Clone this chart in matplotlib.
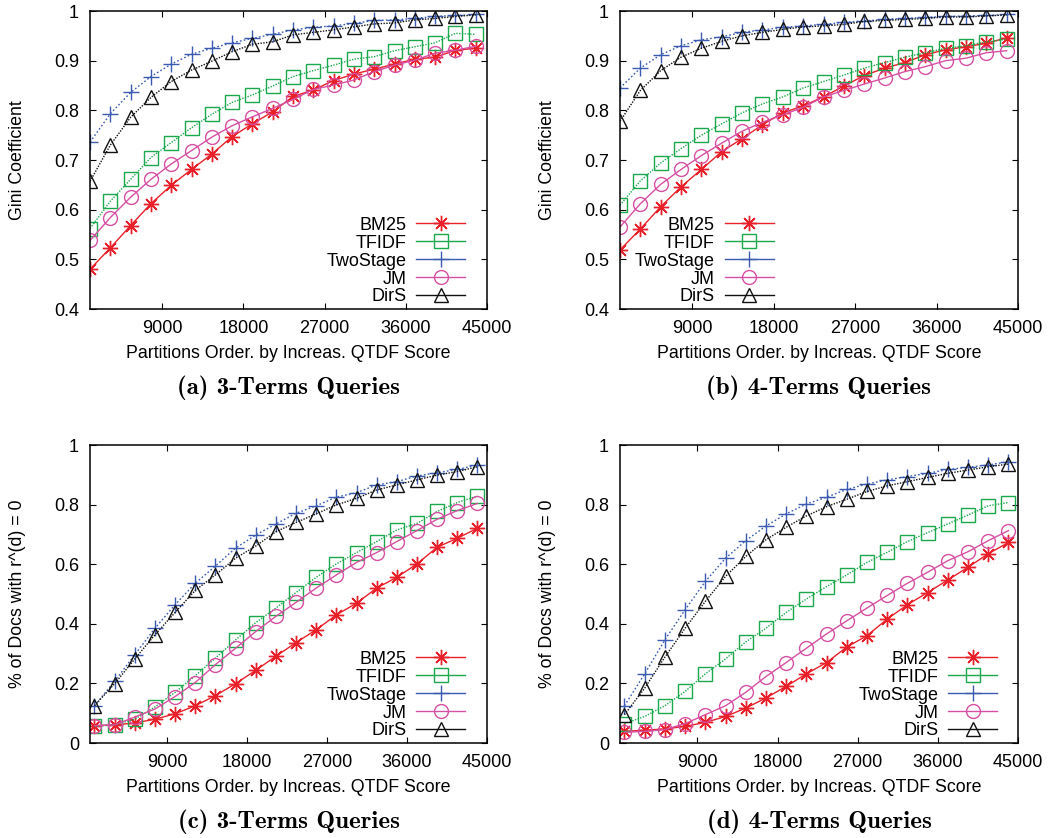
import numpy as np
import matplotlib
matplotlib.use("Agg")
import matplotlib.pyplot as plt
from matplotlib.lines import Line2D

plt.rcParams['font.family'] = ['Liberation Sans', 'DejaVu Sans']

# partition positions (20 points per curve)
x_top = [1000, 3250, 5500, 7750, 10000, 12250, 14500, 16750, 19000, 21250,
         23500, 25750, 28000, 30250, 32500, 34750, 37000, 39250, 41500, 43750]
x_bot = [800, 3070, 5340, 7610, 9880, 12150, 14420, 16690, 18960, 21230,
         23500, 25770, 28040, 30310, 32580, 34850, 37120, 39390, 41660, 43930]

methods = ["BM25", "TFIDF", "TwoStage", "JM", "DirS"]

# (a) Gini coefficient, 3-term queries
gini3_bm25 = [0.480, 0.523, 0.568, 0.612, 0.649, 0.681, 0.712, 0.747, 0.773, 0.797,
              0.828, 0.841, 0.860, 0.873, 0.883, 0.893, 0.903, 0.907, 0.921, 0.925]
gini3_tfidf = [0.562, 0.617, 0.661, 0.705, 0.735, 0.765, 0.792, 0.816, 0.831, 0.849,
               0.868, 0.880, 0.891, 0.903, 0.908, 0.920, 0.928, 0.936, 0.955, 0.953]
gini3_two = [0.736, 0.793, 0.836, 0.868, 0.893, 0.913, 0.925, 0.936, 0.945, 0.953,
             0.962, 0.967, 0.970, 0.975, 0.981, 0.982, 0.985, 0.989, 0.991, 0.993]
gini3_jm = [0.538, 0.584, 0.625, 0.661, 0.692, 0.719, 0.746, 0.769, 0.787, 0.804,
            0.822, 0.842, 0.851, 0.861, 0.878, 0.891, 0.901, 0.915, 0.921, 0.929]
gini3_dirs = [0.657, 0.730, 0.786, 0.826, 0.858, 0.881, 0.899, 0.918, 0.933, 0.938,
              0.952, 0.957, 0.962, 0.968, 0.974, 0.976, 0.982, 0.985, 0.989, 0.992]

# (b) Gini coefficient, 4-term queries
gini4_bm25 = [0.519, 0.561, 0.606, 0.646, 0.681, 0.717, 0.743, 0.771, 0.795, 0.809,
              0.827, 0.849, 0.870, 0.885, 0.896, 0.912, 0.922, 0.928, 0.935, 0.946]
gini4_tfidf = [0.609, 0.658, 0.694, 0.723, 0.750, 0.773, 0.795, 0.813, 0.827, 0.845,
               0.858, 0.871, 0.885, 0.896, 0.907, 0.916, 0.925, 0.930, 0.938, 0.943]
gini4_two = [0.845, 0.885, 0.912, 0.930, 0.942, 0.948, 0.957, 0.962, 0.967, 0.970,
             0.973, 0.977, 0.980, 0.983, 0.985, 0.987, 0.989, 0.990, 0.991, 0.993]
gini4_jm = [0.565, 0.612, 0.651, 0.681, 0.709, 0.734, 0.758, 0.776, 0.791, 0.806,
            0.827, 0.840, 0.853, 0.865, 0.878, 0.888, 0.900, 0.905, 0.916, 0.920]
gini4_dirs = [0.778, 0.840, 0.880, 0.907, 0.925, 0.939, 0.950, 0.957, 0.963, 0.968,
              0.970, 0.973, 0.979, 0.981, 0.983, 0.985, 0.988, 0.988, 0.990, 0.992]

# (c) share of docs with r^(d) = 0, 3-term queries
zero3_bm25 = [0.058, 0.061, 0.067, 0.080, 0.098, 0.125, 0.159, 0.199, 0.244, 0.291,
              0.337, 0.380, 0.430, 0.469, 0.520, 0.556, 0.601, 0.657, 0.687, 0.721]
zero3_tfidf = [0.056, 0.061, 0.080, 0.121, 0.170, 0.226, 0.285, 0.346, 0.404, 0.453,
               0.505, 0.556, 0.601, 0.639, 0.676, 0.715, 0.737, 0.777, 0.807, 0.829]
zero3_two = [0.125, 0.207, 0.296, 0.385, 0.464, 0.536, 0.594, 0.654, 0.698, 0.735,
             0.771, 0.796, 0.825, 0.840, 0.866, 0.877, 0.896, 0.907, 0.918, 0.933]
zero3_jm = [0.058, 0.061, 0.087, 0.114, 0.156, 0.203, 0.263, 0.318, 0.374, 0.425,
            0.472, 0.520, 0.564, 0.606, 0.639, 0.676, 0.713, 0.751, 0.780, 0.804]
zero3_dirs = [0.125, 0.199, 0.282, 0.363, 0.438, 0.512, 0.564, 0.620, 0.661, 0.709,
              0.740, 0.769, 0.799, 0.821, 0.849, 0.866, 0.883, 0.899, 0.911, 0.927]

# (d) share of docs with r^(d) = 0, 4-term queries
zero4_bm25 = [0.039, 0.043, 0.047, 0.056, 0.069, 0.089, 0.117, 0.151, 0.190, 0.232,
              0.270, 0.322, 0.360, 0.416, 0.464, 0.505, 0.547, 0.590, 0.635, 0.673]
zero4_tfidf = [0.065, 0.089, 0.125, 0.173, 0.232, 0.282, 0.339, 0.385, 0.438, 0.483,
               0.525, 0.564, 0.606, 0.640, 0.676, 0.706, 0.735, 0.765, 0.796, 0.807]
zero4_two = [0.125, 0.232, 0.346, 0.447, 0.542, 0.620, 0.679, 0.728, 0.769, 0.802,
             0.825, 0.851, 0.869, 0.883, 0.894, 0.905, 0.918, 0.925, 0.933, 0.944]
zero4_jm = [0.036, 0.039, 0.045, 0.065, 0.095, 0.125, 0.170, 0.223, 0.270, 0.318,
            0.366, 0.410, 0.453, 0.495, 0.536, 0.573, 0.612, 0.642, 0.679, 0.713]
zero4_dirs = [0.095, 0.184, 0.288, 0.385, 0.475, 0.559, 0.626, 0.682, 0.724, 0.762,
              0.793, 0.818, 0.844, 0.863, 0.877, 0.891, 0.905, 0.916, 0.927, 0.936]

xticks = [9000, 18000, 27000, 36000, 45000]

# style per method: color, marker, linestyle
styles = {
    "BM25": dict(color="#e8202a", marker=(8, 2, 0), ls="-", ms=11),
    "TFIDF": dict(color="#1ba84c", marker="s", ls=(0, (1, 1)), ms=9.5),
    "TwoStage": dict(color="#3a5bb0", marker="+", ls=(0, (1.2, 1.6)), ms=11),
    "JM": dict(color="#d64fa2", marker="o", ls="-", ms=10),
    "DirS": dict(color="#111111", marker="^", ls=(0, (1, 1)), ms=10),
}

panels = [
    ("(a) 3-Terms Queries", x_top, [gini3_bm25, gini3_tfidf, gini3_two, gini3_jm, gini3_dirs],
     "Gini Coefficient", (0.4, 1.0), 0.1, 1000, 0.945),
    ("(b) 4-Terms Queries", x_top, [gini4_bm25, gini4_tfidf, gini4_two, gini4_jm, gini4_dirs],
     "Gini Coefficient", (0.4, 1.0), 0.1, 1000, 0.386),
    ("(c) 3-Terms Queries", x_bot, [zero3_bm25, zero3_tfidf, zero3_two, zero3_jm, zero3_dirs],
     "% of Docs with r^(d) = 0", (0.0, 1.0), 0.2, 300, 0.945),
    ("(d) 4-Terms Queries", x_bot, [zero4_bm25, zero4_tfidf, zero4_two, zero4_jm, zero4_dirs],
     "% of Docs with r^(d) = 0", (0.0, 1.0), 0.2, 300, 0.947),
]

fig = plt.figure(figsize=(10.55, 8.38), dpi=100)
W, H = 1055, 838
boxes = [(90, 11, 487, 309), (620, 11, 1018, 309),
         (90, 445, 487, 743), (620, 445, 1018, 743)]

for (title, xs, series, ylab, ylim, ystep, xmin, legx), (l, t, r, b) in zip(panels, boxes):
    ax = fig.add_axes([l / W, 1 - b / H, (r - l) / W, (b - t) / H])
    for name, ys in zip(methods, series):
        st = styles[name]
        ax.plot(xs, ys, color=st["color"], ls=st["ls"], lw=1.0,
                marker=st["marker"], ms=st["ms"], mfc="none",
                mec=st["color"], mew=1.0)
    ax.set_xlim(xmin, 45000)
    ax.set_ylim(*ylim)
    ax.set_xticks(xticks)
    yt = np.round(np.arange(ylim[0], ylim[1] + 1e-9, ystep), 2)
    ax.set_yticks(yt)
    ax.set_yticklabels([f"{v:g}" for v in yt])
    ax.tick_params(direction="in", top=True, right=True, length=4, width=0.8,
                   labelsize=13, pad=8)
    for s in ax.spines.values():
        s.set_linewidth(1.1)
    ax.set_xlabel("Partitions Order. by Increas. QTDF Score", fontsize=12.8)
    ax.xaxis.set_label_coords(0.5, -0.122)
    ax.set_ylabel(ylab, fontsize=12.8)
    ax.yaxis.set_label_coords(-0.162, 0.5)

    handles = [Line2D([], [], color=styles[n]["color"], ls="-", lw=1.0,
                      marker=styles[n]["marker"], ms=styles[n]["ms"], mfc="none",
                      mec=styles[n]["color"], mew=1.0) for n in methods]
    ax.legend(handles, methods, loc="lower right", bbox_to_anchor=(legx, 0.012),
              frameon=False, markerfirst=False, fontsize=13, handlelength=2.7,
              handletextpad=0.55, labelspacing=0.05, borderpad=0, borderaxespad=0)

    cy = (b + 79) if t < 100 else 822
    fig.text((l + r) / 2 / W, 1 - cy / H, title, ha="center", va="center",
             fontsize=18, family=["cmb10", "DejaVu Serif"])

fig.savefig("out.png", dpi=100)
